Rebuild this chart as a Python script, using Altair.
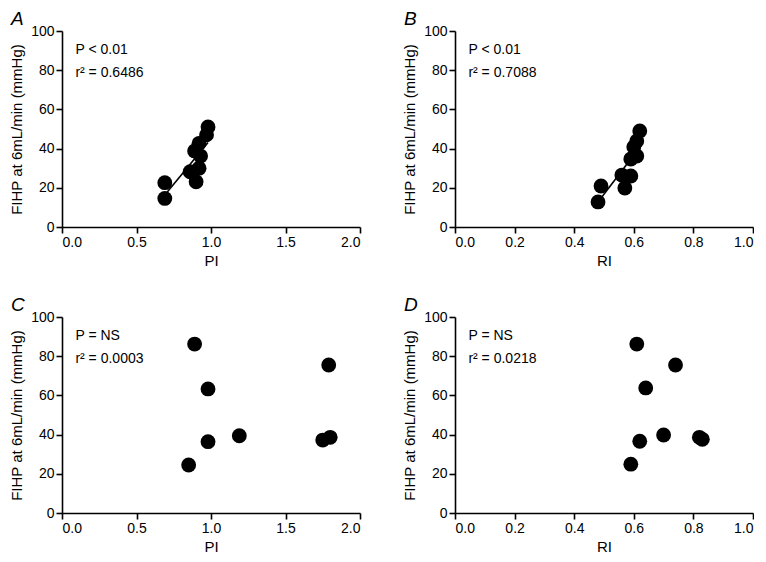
import altair as alt
import pandas as pd

# Panel A: PI vs FIHP
a_pi = [0.69, 0.69, 0.86, 0.90, 0.92, 0.89, 0.92, 0.93, 0.97, 0.98]
a_fihp = [14.6, 22.6, 28.2, 23.1, 30.0, 38.8, 42.7, 36.2, 47.0, 51.0]
# Panel B: RI vs FIHP
b_ri = [0.48, 0.49, 0.56, 0.57, 0.59, 0.59, 0.60, 0.61, 0.61, 0.62]
b_fihp = [12.8, 20.9, 26.5, 19.9, 26.0, 34.7, 40.8, 36.2, 43.9, 49.0]
# Panel C: PI vs FIHP
c_pi = [0.89, 0.98, 0.98, 1.19, 0.85, 1.75, 1.80, 1.79]
c_fihp = [86.2, 63.3, 36.4, 39.4, 24.5, 37.2, 38.6, 75.5]
# Panel D: RI vs FIHP
d_ri = [0.61, 0.64, 0.62, 0.70, 0.59, 0.82, 0.83, 0.74]
d_fihp = [86.2, 63.8, 36.6, 39.8, 24.9, 38.6, 37.6, 75.5]

labels = ["A", "B", "C", "D"]
p_texts = ["P < 0.01", "P < 0.01", "P = NS", "P = NS"]
r_texts = ["r\u00b2 = 0.6486", "r\u00b2 = 0.7088", "r\u00b2 = 0.0003", "r\u00b2 = 0.0218"]

pi_ticks = [0.0, 0.5, 1.0, 1.5, 2.0]
ri_ticks = [0.0, 0.2, 0.4, 0.6, 0.8, 1.0]
y_ticks = [0, 20, 40, 60, 80, 100]

FONT = "Liberation Sans"
W, H = 298, 196


def panel(xs, ys, xname, xticks, label, ptxt, rtxt, reg):
    df = pd.DataFrame({"x": xs, "y": ys})
    xmax = xticks[-1]
    xsc = alt.Scale(domain=[0, xmax], nice=False, zero=True)
    ysc = alt.Scale(domain=[0, 100], nice=False)
    xax = alt.Axis(values=xticks, format=".1f", title=xname, labelOverlap=False)
    yax = alt.Axis(values=y_ticks, title="FIHP at 6mL/min (mmHg)", labelOverlap=False,
                   titleX=-38)
    xenc = alt.X("x:Q", scale=xsc, axis=xax)
    yenc = alt.Y("y:Q", scale=ysc, axis=yax)
    base = alt.Chart(df)
    pts = base.mark_circle(size=220, color="black", opacity=1).encode(x=xenc, y=yenc)
    layers = [pts]
    if reg:
        line = base.transform_regression("x", "y").mark_line(
            color="black", strokeWidth=1.6
        ).encode(x=xenc, y=yenc)
        layers.append(line)
    tdf = pd.DataFrame({"x": [0.045 * xmax, 0.045 * xmax], "y": [90.5, 78.5], "t": [ptxt, rtxt]})
    txt = alt.Chart(tdf).mark_text(
        align="left", baseline="middle", fontSize=14, font=FONT, color="black"
    ).encode(x=xenc, y=yenc, text="t:N")
    layers.append(txt)
    return alt.layer(*layers).properties(
        width=W,
        height=H,
        title=alt.TitleParams(
            label, anchor="start", fontStyle="italic", fontSize=19,
            fontWeight="normal", font=FONT, color="black", offset=-5, dx=2,
        ),
    )


pa = panel(a_pi, a_fihp, "PI", pi_ticks, labels[0], p_texts[0], r_texts[0], True)
pb = panel(b_ri, b_fihp, "RI", ri_ticks, labels[1], p_texts[1], r_texts[1], True)
pc = panel(c_pi, c_fihp, "PI", pi_ticks, labels[2], p_texts[2], r_texts[2], False)
pd_ = panel(d_ri, d_fihp, "RI", ri_ticks, labels[3], p_texts[3], r_texts[3], False)

chart = alt.vconcat(
    alt.hconcat(pa, pb, spacing=40),
    alt.hconcat(pc, pd_, spacing=40),
    spacing=28,
    padding={"top": 2, "left": 0, "right": 0, "bottom": 0},
).configure_view(stroke=None).configure_axis(
    grid=False,
    domainColor="black",
    domainWidth=1.6,
    tickColor="black",
    tickWidth=1.6,
    tickSize=6,
    labelColor="black",
    labelFontSize=14,
    labelFont=FONT,
    titleFont=FONT,
    titleFontSize=15,
    titleFontWeight="normal",
    titleColor="black",
    labelPadding=2,
)

chart.save("out.html", embed_options={"renderer": "svg", "actions": False})
